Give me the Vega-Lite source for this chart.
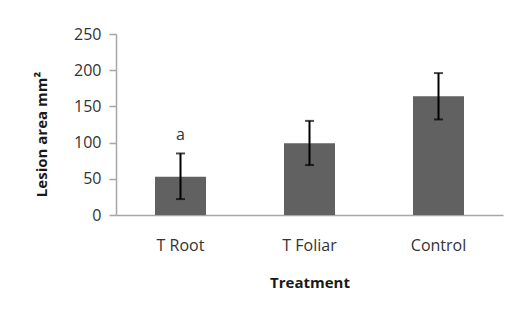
{
  "$schema": "https://vega.github.io/schema/vega-lite/v6.json",
  "autosize": "none",
  "width": 387,
  "height": 181,
  "padding": {"left": 116, "top": 34, "right": 14, "bottom": 94},
  "background": "white",
  "config": {
    "view": {"stroke": null},
    "font": "Open Sans",
    "axisY": {
      "titleFont": "Open Sans",
      "titleFontSize": 15,
      "titleFontWeight": "bold",
      "titleColor": "#1a1a1a",
      "titlePadding": 24,
      "titleY": 100,
      "tickCount": 6,
      "labelOverlap": false,
      "labelFont": "Open Sans",
      "labelFontSize": 16,
      "labelColor": "#333333",
      "labelPadding": 8,
      "tickSize": 7,
      "tickColor": "#a6a6a6",
      "tickWidth": 1.5,
      "domainColor": "#a6a6a6",
      "domainWidth": 1.5,
      "grid": false
    }
  },
  "data": {
    "values": [
      {"treatment": "T Root", "value": 53, "lo": 22, "hi": 85, "label": "a"},
      {"treatment": "T Foliar", "value": 99, "lo": 69, "hi": 130, "label": ""},
      {"treatment": "Control", "value": 164, "lo": 132, "hi": 196, "label": ""}
    ]
  },
  "encoding": {
    "x": {
      "field": "treatment",
      "type": "nominal",
      "sort": null,
      "scale": {"paddingInner": 0, "paddingOuter": 0},
      "axis": {
        "title": "Treatment",
        "titleFont": "Open Sans",
        "titleFontSize": 15,
        "titleFontWeight": "bold",
        "titleColor": "#1a1a1a",
        "titlePadding": 22,
        "labelAngle": 0,
        "labelFont": "Open Sans",
        "labelFontSize": 16,
        "labelColor": "#333333",
        "labelPadding": 22,
        "ticks": false,
        "domainColor": "#a6a6a6",
        "domainWidth": 1.5,
        "grid": false
      }
    }
  },
  "layer": [
    {
      "mark": {"type": "bar", "size": 51, "color": "#616161"},
      "encoding": {
        "y": {
          "field": "value",
          "type": "quantitative",
          "scale": {"domain": [0, 250], "nice": false},
          "axis": {"title": "Lesion area mm²"}
        }
      }
    },
    {
      "mark": {"type": "rule", "color": "black", "strokeWidth": 2},
      "encoding": {
        "y": {"field": "lo", "type": "quantitative"},
        "y2": {"field": "hi"}
      }
    },
    {
      "mark": {"type": "tick", "color": "black", "size": 9, "thickness": 2, "orient": "horizontal"},
      "encoding": {
        "y": {"field": "lo", "type": "quantitative"}
      }
    },
    {
      "mark": {"type": "tick", "color": "black", "size": 9, "thickness": 2, "orient": "horizontal"},
      "encoding": {
        "y": {"field": "hi", "type": "quantitative"}
      }
    },
    {
      "mark": {"type": "text", "font": "Open Sans", "fontSize": 16, "color": "#333333", "baseline": "middle", "dy": -18},
      "encoding": {
        "y": {"field": "hi", "type": "quantitative"},
        "text": {"field": "label"}
      }
    }
  ]
}
